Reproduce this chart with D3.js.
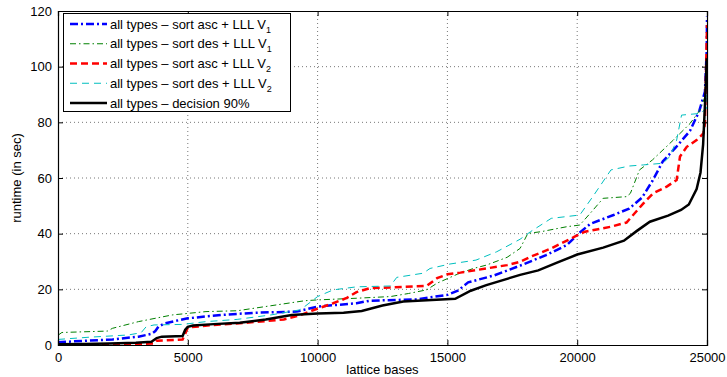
<!DOCTYPE html>
<html lang="en">
<head>
<meta charset="UTF-8">
<title>runtime vs lattice bases</title>
<script src="https://cdn.jsdelivr.net/npm/d3@7/dist/d3.min.js"></script>
<style>
    body { margin: 0; background: #fff; }
    svg { display: block; font-family: "Liberation Sans", Arial, sans-serif; }
</style>
</head>
<body>
<svg id="chart" width="727" height="377"></svg>
<script>
// data: [lattice bases, runtime]
const ascV1 = [[0,1.0],[1200,1.6],[2100,2.0],[3100,3.0],[3600,4.0],[3750,5.0],[3870,6.6],[4120,7.8],[5000,9.6],[6300,10.8],[7600,11.6],[9200,12.0],[10000,13.8],[11500,15.0],[12000,15.9],[13800,16.4],[15000,18.0],[15400,19.5],[15800,22.5],[16800,25],[17800,28.5],[18800,32.3],[19600,35.9],[20050,40],[20500,43.5],[21400,46.7],[22000,49],[22500,53],[22900,59],[23300,66],[23800,71],[24350,77],[24700,84],[24920,91],[24990,106],[25000,118]];
const desV1 = [[0,3.5],[150,4.5],[1900,5.0],[2100,6.0],[3100,8.4],[4400,10.8],[5700,12.0],[6900,12.3],[8200,14.1],[9500,15.9],[10000,16.2],[11500,16.8],[12800,17.4],[13500,18.5],[14200,19.8],[14600,22.2],[15400,25.5],[16000,27.5],[16500,28.7],[17300,31.5],[17800,34.7],[18100,40.1],[18600,40.7],[19600,42.5],[20100,43.1],[20500,47.3],[21000,52.7],[21900,53.3],[22050,54.5],[22400,62.9],[22900,66.5],[23700,73.6],[24350,79.6],[24730,84.4],[24920,89.2],[25000,95]];
const ascV2 = [[0,0.2],[2000,0.3],[3700,0.5],[3800,1.5],[4800,2.0],[4900,4],[5000,6.3],[6000,7.2],[7000,7.8],[8000,8.6],[8700,9.2],[9300,10.6],[9800,12.4],[10600,15],[11100,16.8],[11500,19],[12000,20.4],[12800,20.7],[14200,21.2],[14600,24],[15000,25.4],[15500,26],[16500,27.5],[17300,28.7],[17800,29.9],[18200,31.7],[19000,34.7],[19900,38.9],[20300,40.7],[21300,42.5],[21900,44],[22550,50.9],[22930,54.5],[23450,56.9],[23830,59.3],[23960,67.7],[24220,71.2],[24600,73.6],[24860,76],[24920,79.6],[25000,115]];
const desV2 = [[0,2.0],[1200,2.8],[2700,3.6],[3200,4.4],[3400,6.6],[3700,7.2],[4800,7.4],[5700,8.4],[6900,9.2],[8200,10.8],[9300,12.6],[9500,13.8],[10000,17.4],[10600,19.8],[11500,20.9],[12800,21.2],[13050,24.3],[14070,25.8],[14330,27.5],[15100,29.1],[16100,30.5],[16900,33.5],[17800,38],[18200,40.7],[19000,45.5],[20100,46.7],[20600,53.3],[21300,62.9],[22000,64.3],[22550,64.7],[23300,65.3],[23570,67.7],[23830,73.6],[24020,82.6],[24730,83.2],[24990,85],[25000,92]];
const decision90 = [[0,0.3],[1000,0.4],[2000,0.5],[3000,0.8],[3600,1.2],[3800,2.5],[4000,3.0],[4800,3.2],[4900,5.5],[5000,6.5],[5200,7.0],[6000,7.5],[7000,8],[8000,9.2],[9000,10.8],[10000,11.3],[11000,11.6],[11700,12.2],[12500,14.2],[13300,15.6],[15300,16.6],[15900,19.5],[16500,21.5],[17800,25.2],[18500,26.8],[19200,29.5],[20000,32.5],[21000,35],[21800,37.5],[22300,41],[22800,44.3],[23500,46.5],[24000,48.5],[24300,50.5],[24600,56],[24750,62],[24850,72],[24930,88],[24990,103]];

const xTicks = [0, 5000, 10000, 15000, 20000, 25000];
const yTicks = [0, 20, 40, 60, 80, 100, 120];
const seriesNames = ["all types \u2013 sort asc + LLL V", "all types \u2013 sort des + LLL V", "all types \u2013 sort asc + LLL V", "all types \u2013 sort des + LLL V", "all types \u2013 decision 90%"];
const seriesSubs = ["1", "1", "2", "2", ""];

const series = [
    { data: ascV1, color: "#0000ff", width: 2.5, dash: "8,3,2,3" },
    { data: desV1, color: "#008000", width: 1, dash: "6,3,1.5,3" },
    { data: ascV2, color: "#ff0000", width: 2.5, dash: "7,4" },
    { data: desV2, color: "#00bfbf", width: 1, dash: "7,5" },
    { data: decision90, color: "#000000", width: 2.5, dash: null }
];

const svg = d3.select("#chart");
const pLeft = 58, pRight = 707, pTop = 11, pBottom = 345;

const x = d3.scaleLinear().domain([0, 25000]).range([pLeft, pRight]);
const y = d3.scaleLinear().domain([0, 120]).range([pBottom, pTop]);

// grid
svg.append("g").selectAll("line").data(xTicks.slice(1, -1)).join("line")
    .attr("x1", d => x(d)).attr("x2", d => x(d))
    .attr("y1", pTop).attr("y2", pBottom)
    .attr("stroke", "#777").attr("stroke-dasharray", "1,3");
svg.append("g").selectAll("line").data(yTicks.slice(1, -1)).join("line")
    .attr("y1", d => y(d)).attr("y2", d => y(d))
    .attr("x1", pLeft).attr("x2", pRight)
    .attr("stroke", "#777").attr("stroke-dasharray", "1,3");

// lines
svg.append("clipPath").attr("id", "clip").append("rect")
    .attr("x", pLeft).attr("y", pTop).attr("width", pRight - pLeft).attr("height", pBottom - pTop);

const line = d3.line().x(d => x(d[0])).y(d => y(d[1]));
const plot = svg.append("g").attr("clip-path", "url(#clip)");
series.forEach(s => {
    plot.append("path").datum(s.data)
        .attr("d", line)
        .attr("fill", "none")
        .attr("stroke", s.color)
        .attr("stroke-width", s.width)
        .attr("stroke-dasharray", s.dash);
});

// axes (inward ticks on all sides, MATLAB box)
const fontSize = 13;
svg.append("g").attr("transform", `translate(0,${pBottom})`)
    .call(d3.axisBottom(x).tickValues(xTicks).tickSize(-5).tickPadding(8).tickFormat(d3.format("d")));
svg.append("g").attr("transform", `translate(0,${pTop})`)
    .call(d3.axisTop(x).tickValues(xTicks).tickSize(-5).tickFormat(""));
svg.append("g").attr("transform", `translate(${pLeft},0)`)
    .call(d3.axisLeft(y).tickValues(yTicks).tickSize(-5).tickPadding(6));
svg.append("g").attr("transform", `translate(${pRight},0)`)
    .call(d3.axisRight(y).tickValues(yTicks).tickSize(-5).tickFormat(""));

svg.selectAll(".domain").attr("stroke", "#000").attr("stroke-width", 1.2);
svg.selectAll(".tick line").attr("stroke", "#000");
svg.selectAll(".tick text").attr("font-size", fontSize).attr("font-family", "Liberation Sans, Arial, sans-serif").attr("fill", "#000");

svg.append("text").attr("x", (pLeft + pRight) / 2).attr("y", 374)
    .attr("text-anchor", "middle").attr("font-size", fontSize).text("lattice bases");
svg.append("text").attr("transform", `translate(21,${(pTop + pBottom) / 2}) rotate(-90)`)
    .attr("text-anchor", "middle").attr("font-size", fontSize).text("runtime (in sec)");

// legend
const legend = svg.append("g");
legend.append("rect").attr("x", 63.5).attr("y", 13.5).attr("width", 227).attr("height", 98)
    .attr("fill", "#fff").attr("stroke", "#000");
series.forEach((s, i) => {
    const ly = 24 + i * 19.75;
    legend.append("line").attr("x1", 70).attr("x2", 107).attr("y1", ly).attr("y2", ly)
        .attr("stroke", s.color).attr("stroke-width", s.width).attr("stroke-dasharray", s.dash);
    const t = legend.append("text").attr("x", 110).attr("y", ly + 4.5).attr("font-size", fontSize);
    t.append("tspan").text(seriesNames[i]);
    if (seriesSubs[i]) t.append("tspan").attr("font-size", 9).attr("dy", 4).text(seriesSubs[i]);
});
</script>
</body>
</html>
